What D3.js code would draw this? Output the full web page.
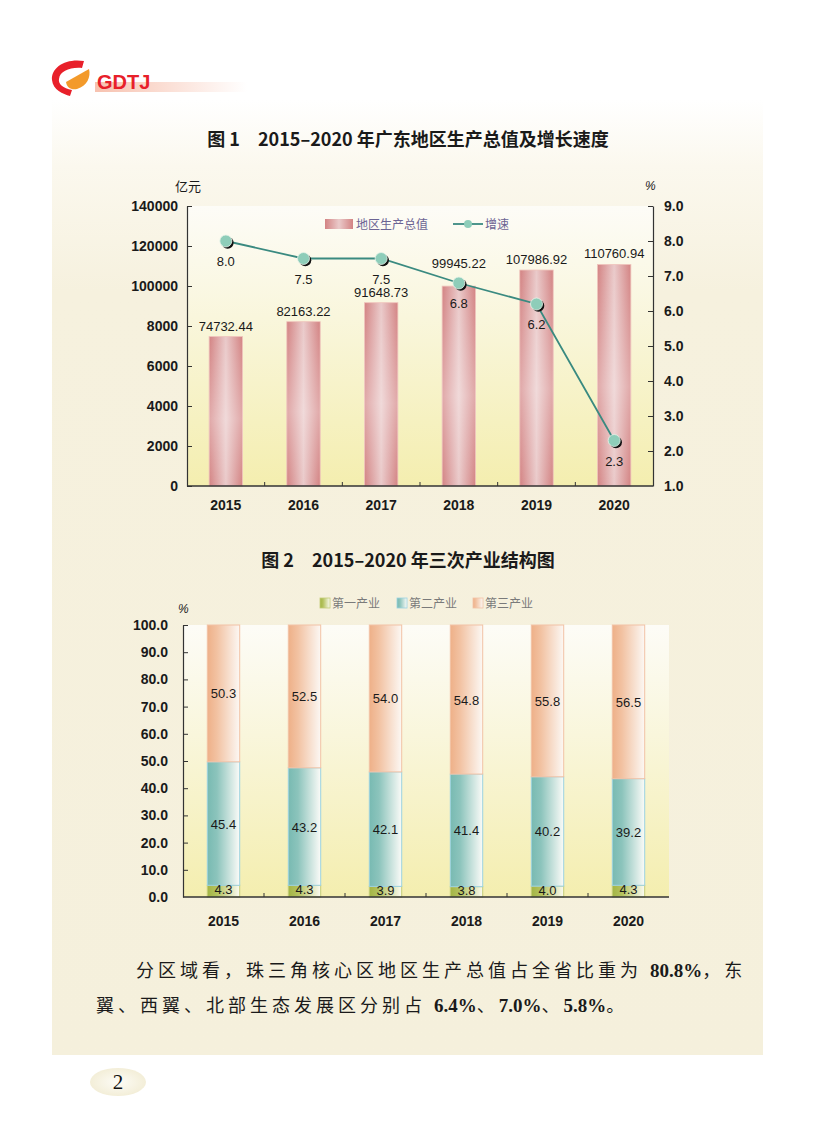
<!DOCTYPE html>
<html>
<head>
<meta charset="utf-8">
<script src="https://cdn.jsdelivr.net/npm/d3@7"></script>
<style>
  body { margin: 0; background: #fff; }
  svg { display: block; }
</style>
</head>
<body>
<script>
// data
var years = ["2015", "2016", "2017", "2018", "2019", "2020"];
var gdp = [74732.44, 82163.22, 91648.73, 99945.22, 107986.92, 110760.94];
var gdpLabels = ["74732.44", "82163.22", "91648.73", "99945.22", "107986.92", "110760.94"];
var growth = [8.0, 7.5, 7.5, 6.8, 6.2, 2.3];
var growthLabels = ["8.0", "7.5", "7.5", "6.8", "6.2", "2.3"];
var gdpTicks = [0, 20000, 40000, 60000, 80000, 100000, 120000, 140000];
var gdpTickLabels = ["0", "2000", "4000", "6000", "8000", "100000", "120000", "140000"];
var growthTicks = [1, 2, 3, 4, 5, 6, 7, 8, 9];

var primary = [4.3, 4.3, 3.9, 3.8, 4.0, 4.3];
var secondary = [45.4, 43.2, 42.1, 41.4, 40.2, 39.2];
var tertiary = [50.3, 52.5, 54.0, 54.8, 55.8, 56.5];
var sectorNames = ["第一产业", "第二产业", "第三产业"];
var shareTicks = [0, 10, 20, 30, 40, 50, 60, 70, 80, 90, 100];

var W = 816, H = 1145;
var SANS = "Liberation Sans, Arial, sans-serif";
var CJK = "Noto Sans CJK SC, sans-serif";
var SERIF = "Liberation Serif, serif";

var svg = d3.select("body").append("svg")
    .attr("width", W)
    .attr("height", H)
    .style("font-family", SANS);

var defs = svg.append("defs");

function linGrad(id, x2, y2, stops) {
    var g = defs.append("linearGradient").attr("id", id)
        .attr("x1", 0).attr("y1", 0).attr("x2", x2).attr("y2", y2);
    stops.forEach(function (s) {
        g.append("stop").attr("offset", s[0]).attr("stop-color", s[1])
            .attr("stop-opacity", s[2] === undefined ? 1 : s[2]);
    });
}

linGrad("pageBg", 0, 1, [[0, "#ffffff"], [0.07, "#fbf8ee"], [0.2, "#f6f1de"], [1, "#f5f0dc"]]);
linGrad("plotBg", 0, 1, [[0, "#fdfcf7"], [0.4, "#f9f6dc"], [1, "#f4eeaf"]]);
linGrad("gdpBar", 1, 0, [[0, "#d38383"], [0.5, "#eacaca"], [1, "#d38383"]]);
linGrad("gdpShine", 0, 1, [[0, "#ffffff", 0], [0.55, "#ffffff", 0.3], [1, "#ffffff", 0]]);
linGrad("headBar", 1, 0, [[0, "#f7c2b0"], [1, "#ffffff"]]);
linGrad("sec0", 1, 0, [[0, "#a3b545"], [0.3, "#b4c25e"], [1, "#fbfbf2"]]);
linGrad("sec1", 1, 0, [[0, "#78bab2"], [0.3, "#8cc4bc"], [1, "#fbfbf8"]]);
linGrad("sec2", 1, 0, [[0, "#eeb088"], [0.3, "#f2c2a2"], [1, "#fcf8f4"]]);

var pn = defs.append("radialGradient").attr("id", "pageNum");
pn.append("stop").attr("offset", 0).attr("stop-color", "#fdfcf6");
pn.append("stop").attr("offset", 1).attr("stop-color", "#f3eed8");

// page background
svg.append("rect")
    .attr("x", 52).attr("y", 100).attr("width", 711).attr("height", 955)
    .attr("fill", "url(#pageBg)");

// header logo
var logo = svg.append("g");
logo.append("rect").attr("x", 95).attr("y", 82).attr("width", 152).attr("height", 10)
    .attr("fill", "url(#headBar)");
logo.append("path")
    .attr("d", "M84,61 C66,58 51,67 52,80 C53,90 63,94 70,96 L72,90 C63,88 58,84 59,79 C60,71 70,67 82,68 Z")
    .attr("fill", "#e8202a");
logo.append("path")
    .attr("d", "M66,82 L89,69 C91,77 87,86 77,89 C71,90 67,88 66,82 Z")
    .attr("fill", "#f39a2a");
logo.append("text").attr("x", 97).attr("y", 89)
    .attr("font-size", 20).attr("font-weight", "bold").attr("fill", "#e8202a")
    .text("GDTJ");

// titles
svg.append("text").style("font-family", CJK).attr("x", 408).attr("y", 146)
    .attr("text-anchor", "middle").attr("font-size", 18).attr("font-weight", "bold")
    .attr("fill", "#1a1a1a")
    .text("图 1　2015–2020 年广东地区生产总值及增长速度");

svg.append("text").style("font-family", CJK).attr("x", 408).attr("y", 567)
    .attr("text-anchor", "middle").attr("font-size", 18).attr("font-weight", "bold")
    .attr("fill", "#1a1a1a")
    .text("图 2　2015–2020 年三次产业结构图");

// ---------- chart 1 ----------
var c1 = { left: 187, right: 653, top: 206, bottom: 486 };

var x1 = d3.scaleBand().domain(years).range([c1.left, c1.right])
    .paddingInner(0.57).paddingOuter(0.285);
var y1 = d3.scaleLinear().domain([0, 140000]).range([c1.bottom, c1.top]);
var y1r = d3.scaleLinear().domain([1, 9]).range([c1.bottom, c1.top]);

var g1 = svg.append("g");

g1.append("rect")
    .attr("x", c1.left).attr("y", c1.top)
    .attr("width", c1.right - c1.left).attr("height", c1.bottom - c1.top)
    .attr("fill", "url(#plotBg)");

var bars1 = g1.selectAll(".gdpbar").data(gdp).enter().append("g");
bars1.append("rect")
    .attr("x", function (d, i) { return x1(years[i]); })
    .attr("y", function (d) { return y1(d); })
    .attr("width", x1.bandwidth())
    .attr("height", function (d) { return c1.bottom - y1(d); })
    .attr("fill", "url(#gdpBar)")
    .attr("stroke", "#efc4bc").attr("stroke-width", 0.8);
bars1.append("rect")
    .attr("x", function (d, i) { return x1(years[i]); })
    .attr("y", function (d) { return y1(d); })
    .attr("width", x1.bandwidth())
    .attr("height", function (d) { return c1.bottom - y1(d); })
    .attr("fill", "url(#gdpShine)");

// axes
var axL = d3.axisLeft(y1).tickValues(gdpTicks)
    .tickFormat(function (d, i) { return gdpTickLabels[i]; })
    .tickSizeInner(-5).tickSizeOuter(0).tickPadding(9);
var axR = d3.axisRight(y1r).tickValues(growthTicks)
    .tickFormat(d3.format(".1f"))
    .tickSizeInner(-5).tickSizeOuter(0).tickPadding(11);

function styleAxis(sel) {
    sel.select(".domain").attr("stroke", "#333").attr("stroke-width", 1.2);
    sel.selectAll(".tick line").attr("stroke", "#333");
    sel.selectAll(".tick text").attr("font-size", 14).attr("font-weight", "bold")
        .attr("fill", "#1a1a1a").attr("font-family", SANS);
}

g1.append("g").attr("transform", "translate(" + c1.left + ",0)").call(axL).call(styleAxis);
var gR = g1.append("g").attr("transform", "translate(" + c1.right + ",0)").call(axR).call(styleAxis);
gR.selectAll(".tick").filter(function (d) { return d === 1; }).select("line").remove();

// bottom axis
g1.append("line").attr("x1", c1.left).attr("x2", c1.right)
    .attr("y1", c1.bottom).attr("y2", c1.bottom)
    .attr("stroke", "#333").attr("stroke-width", 1.4);
g1.selectAll(".xtick").data(years.slice(1)).enter().append("line")
    .attr("x1", function (d) { return x1(d) - x1.step() * x1.paddingInner() / 2; })
    .attr("x2", function (d) { return x1(d) - x1.step() * x1.paddingInner() / 2; })
    .attr("y1", c1.bottom).attr("y2", c1.bottom - 4)
    .attr("stroke", "#333");
g1.selectAll(".xlab").data(years).enter().append("text")
    .attr("x", function (d) { return x1(d) + x1.bandwidth() / 2; })
    .attr("y", c1.bottom + 24)
    .attr("text-anchor", "middle").attr("font-size", 14).attr("font-weight", "bold")
    .attr("fill", "#1a1a1a")
    .text(function (d) { return d; });

// growth line
var line = d3.line()
    .x(function (d, i) { return x1(years[i]) + x1.bandwidth() / 2; })
    .y(function (d) { return y1r(d); });
g1.append("path").datum(growth)
    .attr("d", line).attr("fill", "none")
    .attr("stroke", "#3a8a80").attr("stroke-width", 1.8);

var pts = g1.selectAll(".pt").data(growth).enter().append("g")
    .attr("transform", function (d, i) {
        return "translate(" + (x1(years[i]) + x1.bandwidth() / 2) + "," + y1r(d) + ")";
    });
pts.append("circle").attr("cx", 1.8).attr("cy", 1.8).attr("r", 6).attr("fill", "#111");
pts.append("circle").attr("r", 6).attr("fill", "#8ecdb9")
    .attr("stroke", "#e6f2e8").attr("stroke-width", 0.8);

// labels: value above the bar, lifted above the marker when they collide
g1.selectAll(".gl").data(gdp).enter().append("text")
    .attr("x", function (d, i) { return x1(years[i]) + x1.bandwidth() / 2; })
    .attr("y", function (d, i) {
        var top = y1(d), p = y1r(growth[i]);
        if (Math.abs(top - p) < 12) top = Math.min(top, p - 9);
        return top - 6;
    })
    .attr("text-anchor", "middle").attr("font-size", 13).attr("fill", "#1a1a1a")
    .text(function (d, i) { return gdpLabels[i]; });

g1.selectAll(".rl").data(growth).enter().append("text")
    .attr("x", function (d, i) { return x1(years[i]) + x1.bandwidth() / 2; })
    .attr("y", function (d) { return y1r(d) + 25; })
    .attr("text-anchor", "middle").attr("font-size", 13).attr("fill", "#1a1a1a")
    .text(function (d, i) { return growthLabels[i]; });

// units
g1.append("text").style("font-family", CJK).attr("x", 175).attr("y", 191)
    .attr("font-size", 13).attr("fill", "#1a1a1a").text("亿元");
g1.append("text").attr("x", 645).attr("y", 190)
    .attr("font-size", 12).attr("font-style", "italic").attr("fill", "#1a1a1a").text("%");

// legend 1
var lg1 = g1.append("g");
lg1.append("rect").attr("x", 325).attr("y", 219).attr("width", 28).attr("height", 10)
    .attr("fill", "url(#gdpBar)");
lg1.append("text").style("font-family", CJK).attr("x", 356).attr("y", 229)
    .attr("font-size", 12).attr("fill", "#6c6494").text("地区生产总值");
lg1.append("line").attr("x1", 453).attr("x2", 483).attr("y1", 224).attr("y2", 224)
    .attr("stroke", "#3a8a80").attr("stroke-width", 1.8);
lg1.append("circle").attr("cx", 468).attr("cy", 224).attr("r", 4).attr("fill", "#8ecdb9");
lg1.append("text").style("font-family", CJK).attr("x", 485).attr("y", 229)
    .attr("font-size", 12).attr("fill", "#6c6494").text("增速");

// ---------- chart 2 ----------
var c2 = { left: 183, right: 669, top: 625, bottom: 897 };

var x2 = d3.scaleBand().domain(years).range([c2.left, c2.right])
    .paddingInner(0.6).paddingOuter(0.3);
var y2 = d3.scaleLinear().domain([0, 100]).range([c2.bottom, c2.top]);

var g2 = svg.append("g");
g2.append("rect")
    .attr("x", c2.left).attr("y", c2.top)
    .attr("width", c2.right - c2.left).attr("height", c2.bottom - c2.top)
    .attr("fill", "url(#plotBg)");

var table = years.map(function (y, i) {
    return { year: y, s0: primary[i], s1: secondary[i], s2: tertiary[i] };
});
var stack = d3.stack().keys(["s0", "s1", "s2"])(table);
var strokes = ["#c4cc78", "#9cd2e2", "#f2c2a6"];

stack.forEach(function (layer, k) {
    g2.selectAll(".seg" + k).data(layer).enter().append("rect")
        .attr("x", function (d) { return x2(d.data.year); })
        .attr("y", function (d) { return y2(d[1]); })
        .attr("width", x2.bandwidth())
        .attr("height", function (d) { return y2(d[0]) - y2(d[1]); })
        .attr("fill", "url(#sec" + k + ")")
        .attr("stroke", strokes[k]).attr("stroke-width", 1);
});
stack.forEach(function (layer, k) {
    g2.selectAll(".lab" + k).data(layer).enter().append("text")
        .attr("x", function (d) { return x2(d.data.year) + x2.bandwidth() / 2; })
        .attr("y", function (d) { return (y2(d[0]) + y2(d[1])) / 2 + (k === 0 ? 3 : 5); })
        .attr("text-anchor", "middle").attr("font-size", 13).attr("fill", "#1a1a1a")
        .text(function (d) { return d3.format(".1f")(d[1] - d[0]); });
});

var axL2 = d3.axisLeft(y2).tickValues(shareTicks).tickFormat(d3.format(".1f"))
    .tickSizeInner(-5).tickSizeOuter(0).tickPadding(15);
var gL2 = g2.append("g").attr("transform", "translate(" + c2.left + ",0)").call(axL2).call(styleAxis);
gL2.selectAll(".tick").filter(function (d) { return d === 0; }).select("line").remove();

g2.append("line").attr("x1", c2.left).attr("x2", c2.right)
    .attr("y1", c2.bottom).attr("y2", c2.bottom)
    .attr("stroke", "#333").attr("stroke-width", 1.4);
g2.selectAll(".xtick").data(years.slice(1)).enter().append("line")
    .attr("x1", function (d) { return x2(d) - x2.step() * x2.paddingInner() / 2; })
    .attr("x2", function (d) { return x2(d) - x2.step() * x2.paddingInner() / 2; })
    .attr("y1", c2.bottom).attr("y2", c2.bottom - 4)
    .attr("stroke", "#333");
g2.selectAll(".xlab").data(years).enter().append("text")
    .attr("x", function (d) { return x2(d) + x2.bandwidth() / 2; })
    .attr("y", c2.bottom + 29)
    .attr("text-anchor", "middle").attr("font-size", 14).attr("font-weight", "bold")
    .attr("fill", "#1a1a1a")
    .text(function (d) { return d; });

g2.append("text").attr("x", 178).attr("y", 613)
    .attr("font-size", 12).attr("font-style", "italic").attr("fill", "#1a1a1a").text("%");

// legend 2
var lg2 = g2.selectAll(".lg2").data(sectorNames).enter().append("g")
    .attr("transform", function (d, i) { return "translate(" + [320, 397, 473][i] + ",598)"; });
lg2.append("rect").attr("width", 10).attr("height", 10)
    .attr("fill", function (d, i) { return "url(#sec" + i + ")"; })
    .attr("stroke", function (d, i) { return strokes[i]; }).attr("stroke-width", 0.8);
lg2.append("text").style("font-family", CJK).attr("x", 12).attr("y", 10)
    .attr("font-size", 12).attr("fill", "#7a7a7a")
    .text(function (d) { return d; });

// ---------- paragraph ----------
var para = [
    { x: 136, y: 977, parts: [["分区域看，珠三角核心区地区生产总值占全省比重为 ", 0], ["80.8%", 1], ["，东", 0]] },
    { x: 96, y: 1012, parts: [["翼、西翼、北部生态发展区分别占 ", 0], ["6.4%", 1], ["、", 0], ["7.0%", 1], ["、", 0], ["5.8%", 1], ["。", 0]] }
];
para.forEach(function (p) {
    var t = svg.append("text").attr("x", p.x).attr("y", p.y)
        .attr("font-size", 18).attr("fill", "#1a1a1a");
    p.parts.forEach(function (s) {
        t.append("tspan")
            .style("font-family", s[1] ? SERIF : CJK)
            .attr("font-weight", s[1] ? "bold" : "normal")
            .attr("font-size", s[1] ? 19 : 18)
            .attr("letter-spacing", s[1] ? 0 : 4.0)
            .text(s[0]);
    });
});

// page number
svg.append("ellipse").attr("cx", 118).attr("cy", 1082).attr("rx", 28).attr("ry", 14)
    .attr("fill", "url(#pageNum)");
svg.append("text").attr("x", 118).attr("y", 1089).attr("text-anchor", "middle")
    .style("font-family", SERIF).attr("font-size", 21)
    .attr("fill", "#111").text("2");
</script>
</body>
</html>
